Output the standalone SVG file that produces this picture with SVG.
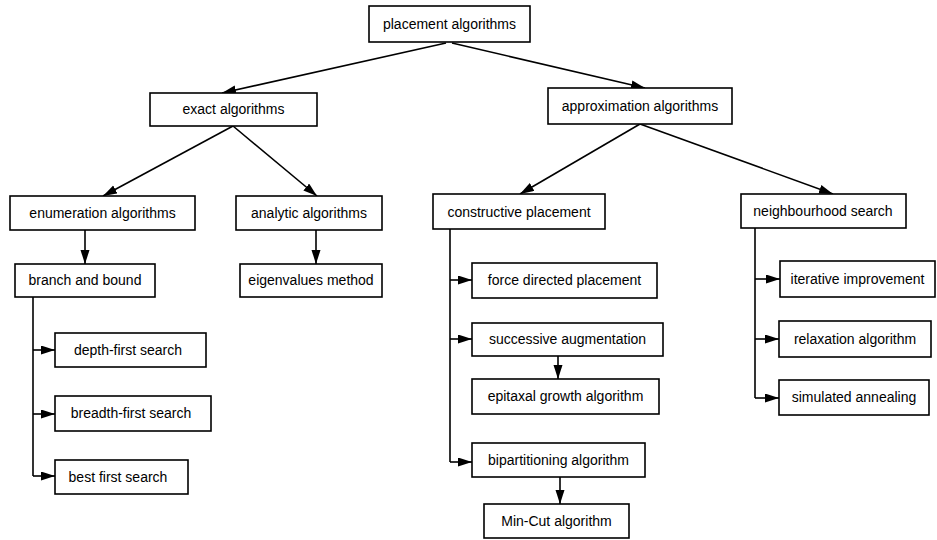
<svg xmlns="http://www.w3.org/2000/svg" width="937" height="540" viewBox="0 0 937 540">
<style>
.box{fill:#fff;stroke:#000;stroke-width:1.6}
.lbl{font-family:"Liberation Sans",Arial,sans-serif;font-size:14px;fill:#000;text-anchor:middle}
.c{fill:none;stroke:#000;stroke-width:1.6}
</style>
<defs>
<marker id="ah" markerUnits="userSpaceOnUse" markerWidth="16" markerHeight="10" refX="14" refY="4.5" orient="auto">
<path d="M0,0 L14,4.5 L0,9 z" fill="#000"/>
</marker>
</defs>
<rect width="937" height="540" fill="#fff"/>
<g id="connectors">
<path class="c" d="M446,43 L222,93" marker-end="url(#ah)"/>
<path class="c" d="M452,43 L645,88" marker-end="url(#ah)"/>
<path class="c" d="M233,126 L103,196" marker-end="url(#ah)"/>
<path class="c" d="M233,126 L317,196" marker-end="url(#ah)"/>
<path class="c" d="M640,124 L520,194" marker-end="url(#ah)"/>
<path class="c" d="M640,124 L833,194" marker-end="url(#ah)"/>
<path class="c" d="M85,230 L85,264" marker-end="url(#ah)"/>
<path class="c" d="M316,230 L316,264" marker-end="url(#ah)"/>
<path class="c" d="M33,297 L33,476"/>
<path class="c" d="M33,350 L55,350" marker-end="url(#ah)"/>
<path class="c" d="M33,414 L55,414" marker-end="url(#ah)"/>
<path class="c" d="M33,476 L55,476" marker-end="url(#ah)"/>
<path class="c" d="M450,229 L450,462"/>
<path class="c" d="M450,280 L472,280" marker-end="url(#ah)"/>
<path class="c" d="M450,339 L472,339" marker-end="url(#ah)"/>
<path class="c" d="M450,462 L472,462" marker-end="url(#ah)"/>
<path class="c" d="M558,356 L558,379" marker-end="url(#ah)"/>
<path class="c" d="M560,477 L560,504" marker-end="url(#ah)"/>
<path class="c" d="M755,228 L755,398"/>
<path class="c" d="M755,279 L780,279" marker-end="url(#ah)"/>
<path class="c" d="M755,339 L779,339" marker-end="url(#ah)"/>
<path class="c" d="M755,398 L779,398" marker-end="url(#ah)"/>
</g>
<g id="placement"><rect class="box" x="369" y="6" width="161" height="36"/><text class="lbl" x="449.5" y="29">placement algorithms</text></g>
<g id="exact"><rect class="box" x="150" y="93" width="167" height="33"/><text class="lbl" x="233.5" y="114">exact algorithms</text></g>
<g id="approx"><rect class="box" x="548" y="88" width="184" height="36"/><text class="lbl" x="640" y="111">approximation algorithms</text></g>
<g id="enumeration"><rect class="box" x="10" y="196" width="185" height="34"/><text class="lbl" x="102.5" y="218">enumeration algorithms</text></g>
<g id="analytic"><rect class="box" x="236" y="196" width="146" height="34"/><text class="lbl" x="309" y="218">analytic algorithms</text></g>
<g id="constructive"><rect class="box" x="433" y="194" width="172" height="35"/><text class="lbl" x="519" y="217">constructive placement</text></g>
<g id="neighbourhood"><rect class="box" x="741" y="194" width="165" height="34"/><text class="lbl" x="823" y="216">neighbourhood search</text></g>
<g id="branch"><rect class="box" x="15" y="264" width="140" height="33"/><text class="lbl" x="85" y="285">branch and bound</text></g>
<g id="eigen"><rect class="box" x="240" y="264" width="142" height="33"/><text class="lbl" x="311" y="285">eigenvalues method</text></g>
<g id="force"><rect class="box" x="472" y="263" width="185" height="35"/><text class="lbl" x="564.5" y="285">force directed placement</text></g>
<g id="successive"><rect class="box" x="472" y="323" width="191" height="33"/><text class="lbl" x="567.5" y="344">successive augmentation</text></g>
<g id="epitaxal"><rect class="box" x="472" y="379" width="187" height="35"/><text class="lbl" x="565.5" y="401">epitaxal growth algorithm</text></g>
<g id="bipart"><rect class="box" x="472" y="443" width="173" height="34"/><text class="lbl" x="558.5" y="465">bipartitioning algorithm</text></g>
<g id="mincut"><rect class="box" x="484" y="504" width="145" height="34"/><text class="lbl" x="556.5" y="526">Min-Cut algorithm</text></g>
<g id="iterative"><rect class="box" x="780" y="261" width="155" height="36"/><text class="lbl" x="857.5" y="284">iterative improvement</text></g>
<g id="relaxation"><rect class="box" x="779" y="321" width="152" height="36"/><text class="lbl" x="855" y="344">relaxation algorithm</text></g>
<g id="simulated"><rect class="box" x="779" y="380" width="150" height="35"/><text class="lbl" x="854" y="402">simulated annealing</text></g>
<g id="depth"><rect class="box" x="55" y="333" width="151" height="34"/><text class="lbl" x="128" y="355">depth-first search</text></g>
<g id="breadth"><rect class="box" x="55" y="396" width="156" height="35"/><text class="lbl" x="131" y="418">breadth-first search</text></g>
<g id="best"><rect class="box" x="55" y="460" width="133" height="34"/><text class="lbl" x="118" y="482">best first search</text></g>
</svg>
